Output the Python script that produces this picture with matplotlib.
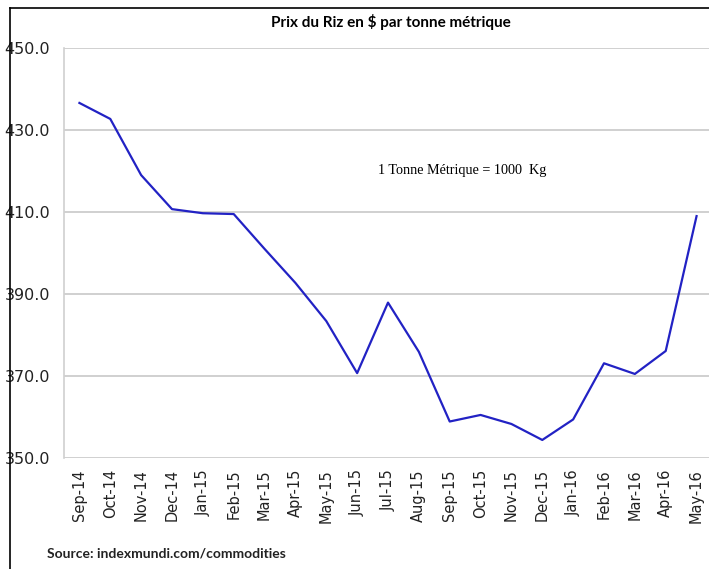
import matplotlib.pyplot as plt
from matplotlib.lines import Line2D

months = ["Sep-14", "Oct-14", "Nov-14", "Dec-14", "Jan-15", "Feb-15", "Mar-15",
          "Apr-15", "May-15", "Jun-15", "Jul-15", "Aug-15", "Sep-15", "Oct-15",
          "Nov-15", "Dec-15", "Jan-16", "Feb-16", "Mar-16", "Apr-16", "May-16"]
prices = [436.6, 432.7, 419.0, 410.7, 409.7, 409.5, 401.0,
          392.7, 383.4, 370.7, 387.9, 375.9, 358.9, 360.5,
          358.3, 354.4, 359.4, 373.1, 370.5, 376.1, 409.0]
yticks = [350, 370, 390, 410, 430, 450]

W, H = 709, 569
fig = plt.figure(figsize=(W / 100, H / 100), dpi=100)
fig.patch.set_facecolor("white")

# plot area in pixel coords: left 64, right ~712 (cut off), top 48, bottom 458
left, right, top, bottom = 64, 712, 48, 458
ax = fig.add_axes([left / W, 1 - bottom / H, (right - left) / W, (bottom - top) / H])

x = list(range(len(months)))
ax.plot(x, prices, color="#2222c4", lw=1.6, solid_joinstyle="round")

ax.set_xlim(-0.5, len(months) - 0.5)
ax.set_ylim(350, 450)
ax.set_yticks(yticks)
ax.set_yticklabels([f"{v:.1f}" for v in yticks], fontsize=11.5, color="#222222")
ax.set_xticks(x)
ax.set_xticklabels(months, rotation=90, fontsize=10.5, color="#222222")
ax.tick_params(axis="both", length=0)
ax.tick_params(axis="y", pad=10)
ax.tick_params(axis="x", pad=8)
ax.grid(axis="y", color="#d0d0d0", lw=1.4)
ax.set_axisbelow(True)
for s in ["top", "right", "bottom"]:
    ax.spines[s].set_visible(False)
ax.spines["left"].set_color("#d0d0d0")
ax.spines["left"].set_linewidth(1.2)

ax.text(12.4, 420.2, "1 Tonne Métrique = 1000  Kg", family="Liberation Serif",
        fontsize=10.2, ha="center", va="center")

fig.text(391 / W, 1 - 22 / H, "Prix du Riz en $ par tonne métrique",
         family="Lato", fontweight="bold", fontsize=11, ha="center", va="center")
fig.text(47 / W, 1 - 553 / H, "Source: indexmundi.com/commodities",
         family="Lato", fontweight="bold", fontsize=10, ha="left", va="center",
         color="#222222")

# outer frame (left and top edges visible)
fig.add_artist(Line2D([10 / W, 10 / W], [0, 1 - 8 / H], color="black", lw=1.2))
fig.add_artist(Line2D([10 / W, 1], [1 - 8 / H, 1 - 8 / H], color="black", lw=1.2))

fig.savefig("out.png", dpi=100)
